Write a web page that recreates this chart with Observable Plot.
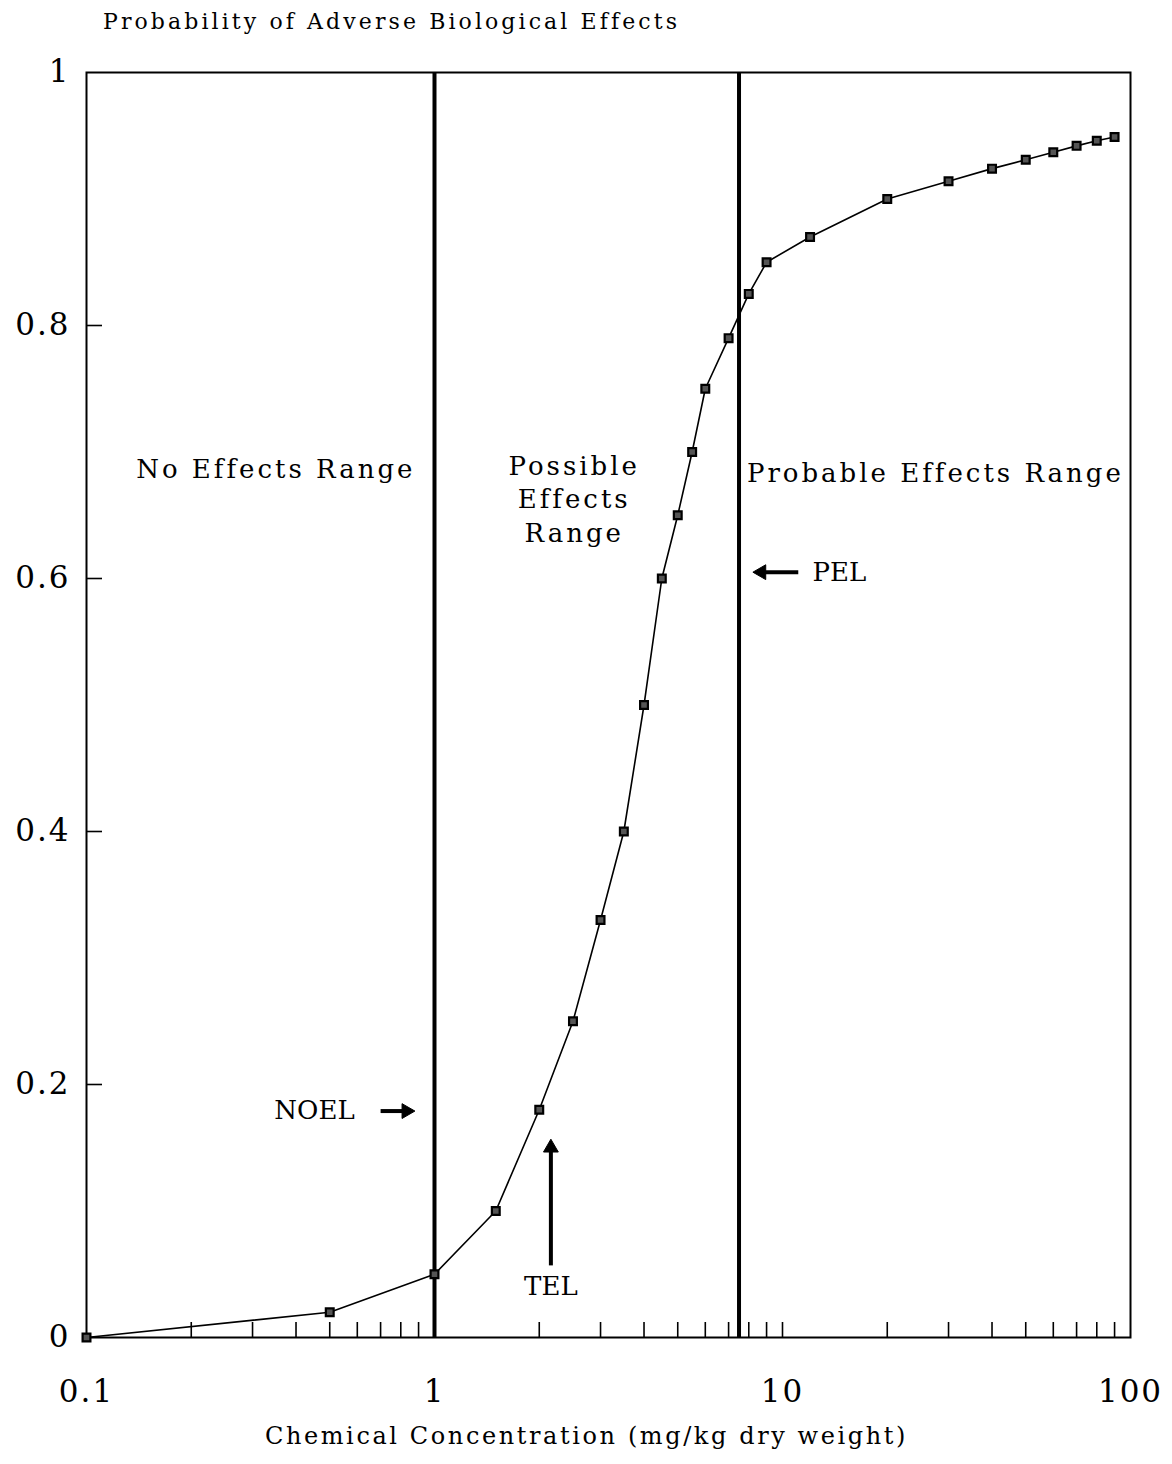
<!DOCTYPE html>
<html>
<head>
<meta charset="utf-8">
<script src="https://cdn.jsdelivr.net/npm/d3@7"></script>
<script src="https://cdn.jsdelivr.net/npm/@observablehq/plot@0.6"></script>
<style>
  html, body { margin: 0; padding: 0; background: #fff; }
  #title { height: 50px; box-sizing: border-box; padding: 8px 0 0 103px; font-family: "DejaVu Serif", serif; font-size: 22px; line-height: 28px; letter-spacing: 3.1px; color: #000; white-space: nowrap; }
  #chart svg { display: block; }
</style>
</head>
<body>
<div id="title">Probability of Adverse Biological Effects</div>
<div id="chart"></div>
<script>
// Concentration (mg/kg dry weight) and probability of adverse biological effects
const conc = [0.1, 0.5, 1, 1.5, 2, 2.5, 3, 3.5, 4, 4.5, 5, 5.5, 6, 7, 8, 9, 12, 20, 30, 40, 50, 60, 70, 80, 90];
const prob = [0, 0.02, 0.05, 0.1, 0.18, 0.25, 0.33, 0.4, 0.5, 0.6, 0.65, 0.7, 0.75, 0.79, 0.825, 0.85, 0.87, 0.9, 0.914, 0.924, 0.931, 0.937, 0.942, 0.946, 0.949];

// Threshold lines (NOEL at 1, PEL)
const thresholds = [1, 7.5];

// Axis ticks
const xTickLabels = [0.1, 1, 10, 100];
const xMinorTicks = [0.2, 0.3, 0.4, 0.5, 0.6, 0.7, 0.8, 0.9, 2, 3, 4, 5, 6, 7, 8, 9, 10, 20, 30, 40, 50, 60, 70, 80, 90];
const yTickLabels = [0, 0.2, 0.4, 0.6, 0.8, 1];
const yInnerTicks = [0.2, 0.4, 0.6, 0.8];

// Range labels
const rangeLabels = ["No Effects Range", "Possible\nEffects\nRange", "Probable Effects Range"];
const rangeX = [0.35, 2.52, 27.5];
const rangeY = [0.688, 0.664, 0.685];

// Annotation labels: NOEL, TEL (centred), PEL (left-aligned)
const noelLabel = {t: "NOEL", x: 0.452, y: 0.179};
const telLabel = {t: "TEL", x: 2.16, y: 0.04};
const pelLabel = {t: "PEL", x: 12.2, y: 0.605};

// Annotation arrows (tail -> head) and head direction
const arrowX1 = [0.70, 2.16, 11.1];
const arrowX2 = [0.83, 2.16, 8.7];
const arrowY1 = [0.179, 0.057, 0.605];
const arrowY2 = [0.179, 0.15, 0.605];
const arrowDir = [90, 0, -90];

const xAxisLabel = "Chemical Concentration (mg/kg dry weight)";

const points = conc.map((c, i) => ({c, p: prob[i]}));
const arrows = arrowX1.map((x1, i) => ({x1, x2: arrowX2[i], y1: arrowY1[i], y2: arrowY2[i], r: arrowDir[i]}));
const ranges = rangeLabels.map((t, i) => ({t, x: rangeX[i], y: rangeY[i]}));

const W = 1172, H = 1414;
const mL = 86, mR = 42, mT = 22, mB = 127;
const plotW = W - mL - mR, plotH = H - mT - mB;

const chart = Plot.plot({
  width: W,
  height: H,
  marginLeft: mL,
  marginRight: mR,
  marginTop: mT,
  marginBottom: mB,
  style: {fontFamily: "DejaVu Serif, serif", color: "#000", background: "#fff"},
  x: {type: "log", domain: [0.1, 100]},
  y: {domain: [0, 1]},
  marks: [
    Plot.axisX({ticks: xTickLabels, tickSize: 0, tickPadding: 42, fontSize: 31, tickFormat: d => String(d), label: null}),
    Plot.axisY({ticks: yTickLabels, tickSize: 0, tickPadding: 16, fontSize: 31, tickFormat: d => String(d), label: null}),
    Plot.tickX(xMinorTicks, {x: d => d, insetTop: plotH - 15, stroke: "#000", strokeWidth: 1.6}),
    Plot.tickY(yInnerTicks, {y: d => d, insetRight: plotW - 16, stroke: "#000", strokeWidth: 1.6}),
    Plot.frame({stroke: "#000", strokeWidth: 2}),
    Plot.ruleX(thresholds, {stroke: "#000", strokeWidth: 4}),
    Plot.line(points, {x: "c", y: "p", stroke: "#000", strokeWidth: 1.6}),
    Plot.dot(points, {x: "c", y: "p", symbol: "square", r: 4.4, stroke: "#000", strokeWidth: 2.2, fill: "#555"}),
    Plot.text(ranges, {x: "x", y: "y", text: "t", fontSize: 26, lineHeight: 1.3, textAnchor: "middle", fill: "#000"}),
    Plot.text([noelLabel, telLabel], {x: "x", y: "y", text: "t", fontSize: 26, textAnchor: "middle", fill: "#000"}),
    Plot.text([pelLabel], {x: "x", y: "y", text: "t", fontSize: 26, textAnchor: "start", fill: "#000"}),
    Plot.link(arrows, {x1: "x1", y1: "y1", x2: "x2", y2: "y2", stroke: "#000", strokeWidth: 4}),
    Plot.dot(arrows, {x: "x2", y: "y2", symbol: "triangle", r: 5.5, rotate: "r", fill: "#000", stroke: "#000", strokeWidth: 1}),
    Plot.text([xAxisLabel], {frameAnchor: "bottom", dx: -22, dy: 106, fontSize: 24, fill: "#000"})
  ]
});

// Letter spacing (typewriter-like wide setting of the original)
const spacing = new Map();
rangeLabels.forEach(t => spacing.set(t.replace(/\n/g, ""), "3px"));
spacing.set(xAxisLabel, "2.6px");
xTickLabels.concat(yTickLabels).forEach(v => spacing.set(String(v), "2px"));
d3.select(chart).selectAll("text").each(function() {
  const s = spacing.get(this.textContent);
  if (s) this.style.letterSpacing = s;
});
document.getElementById("chart").appendChild(chart);
</script>
</body>
</html>
